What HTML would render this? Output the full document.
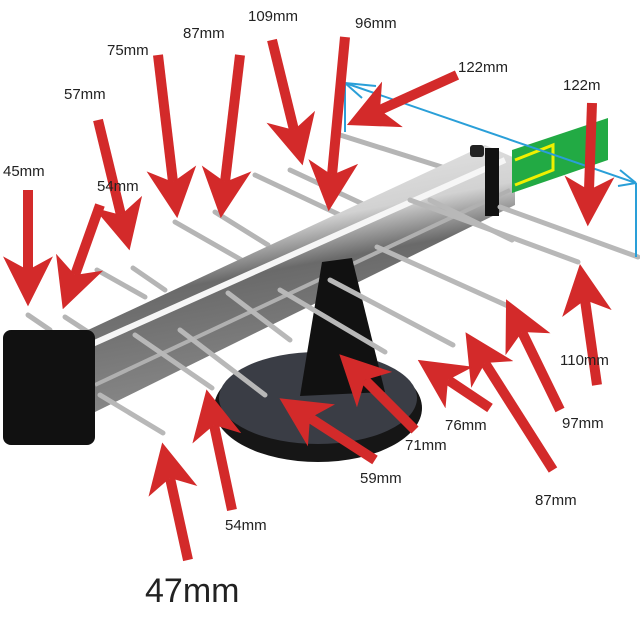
<!DOCTYPE html>
<html><head><meta charset="utf-8"><style>
html,body{margin:0;padding:0;background:#fff;}
svg{display:block;}
text{font-family:"Liberation Sans",sans-serif;fill:#222;}
</style></head><body>
<svg width="640" height="635" viewBox="0 0 640 635" xmlns="http://www.w3.org/2000/svg">
<defs>
<marker id="ah" viewBox="0 0 44 44" refX="12" refY="22" markerWidth="50" markerHeight="50" orient="auto" markerUnits="userSpaceOnUse">
<path d="M0,0 L44,22 L0,44 L12,22 Z" fill="#d32a2a"/>
</marker>
<linearGradient id="boom" x1="0" y1="0" x2="0.3" y2="1">
<stop offset="0" stop-color="#f2f2f2"/><stop offset="0.4" stop-color="#d2d2d2"/><stop offset="0.55" stop-color="#6a6a6a"/><stop offset="1" stop-color="#8c8c8c"/>
</linearGradient>
</defs>
<g stroke-linecap="round">
<g stroke="#b5b5b5" stroke-width="5">
<line x1="340" y1="135" x2="445" y2="168"/>
<line x1="255" y1="175" x2="340" y2="215"/>
<line x1="290" y1="170" x2="365" y2="205"/>
<line x1="175" y1="222" x2="245" y2="262"/>
<line x1="215" y1="212" x2="268" y2="245"/>
<line x1="97" y1="270" x2="145" y2="297"/>
<line x1="133" y1="268" x2="165" y2="290"/>
<line x1="28" y1="315" x2="50" y2="330"/>
<line x1="65" y1="317" x2="88" y2="332"/>
</g>
</g>
<polygon points="88,330 485,145 515,158 515,205 95,412" fill="url(#boom)"/>
<line x1="90" y1="345" x2="505" y2="160" stroke="#f6f6f6" stroke-width="6"/>
<line x1="95" y1="385" x2="510" y2="190" stroke="#b0b0b0" stroke-width="4"/>
<rect x="485" y="148" width="14" height="68" fill="#111"/>
<rect x="470" y="145" width="14" height="12" rx="3" fill="#222"/>
<ellipse cx="318" cy="408" rx="104" ry="54" fill="#161616"/>
<ellipse cx="318" cy="398" rx="99" ry="46" fill="#3a3d45"/>
<polygon points="322,262 352,258 385,392 300,396" fill="#111"/>
<g stroke="#b8b8b8" stroke-width="5" stroke-linecap="round">
<line x1="100" y1="395" x2="163" y2="433"/>
<line x1="135" y1="335" x2="212" y2="388"/>
<line x1="180" y1="330" x2="265" y2="395"/>
<line x1="228" y1="293" x2="290" y2="340"/>
<line x1="280" y1="290" x2="385" y2="352"/>
<line x1="330" y1="280" x2="453" y2="345"/>
<line x1="377" y1="247" x2="510" y2="307"/>
<line x1="410" y1="200" x2="578" y2="262"/>
<line x1="430" y1="200" x2="512" y2="240"/>
<line x1="500" y1="207" x2="638" y2="257"/>
</g>
<rect x="3" y="330" width="92" height="115" rx="8" fill="#111"/>
<polygon points="512,150 608,118 608,160 512,193" fill="#22aa44"/>
<polyline points="515,160 553,145 553,170 515,185" fill="none" stroke="#f0f000" stroke-width="3"/>
<g stroke="#2a9fd8" stroke-width="2" fill="none">
<line x1="345" y1="83" x2="345" y2="132"/>
<line x1="345" y1="83" x2="636" y2="183"/>
<line x1="345" y1="83" x2="376" y2="86"/>
<line x1="345" y1="83" x2="362" y2="98"/>
<line x1="636" y1="183" x2="620" y2="170"/>
<line x1="636" y1="183" x2="618" y2="186"/>
<line x1="636" y1="183" x2="636" y2="257"/>
</g>
<g stroke="#d32a2a" stroke-width="10" marker-end="url(#ah)">
<line x1="28" y1="190" x2="28" y2="270"/>
<line x1="100" y1="205" x2="75" y2="275"/>
<line x1="98" y1="120" x2="121" y2="215"/>
<line x1="158" y1="55" x2="173" y2="182"/>
<line x1="240" y1="55" x2="225" y2="182"/>
<line x1="272" y1="40" x2="294" y2="130"/>
<line x1="345" y1="37" x2="332" y2="175"/>
<line x1="457" y1="75" x2="380" y2="110"/>
<line x1="592" y1="103" x2="589" y2="190"/>
<line x1="597" y1="385" x2="585" y2="300"/>
<line x1="560" y1="410" x2="522" y2="332"/>
<line x1="553" y1="470" x2="485" y2="363"/>
<line x1="490" y1="408" x2="448" y2="380"/>
<line x1="415" y1="430" x2="365" y2="380"/>
<line x1="375" y1="460" x2="310" y2="418"/>
<line x1="232" y1="510" x2="214" y2="425"/>
<line x1="188" y1="560" x2="170" y2="478"/>
</g>
<g font-size="15">
<text x="3" y="176">45mm</text>
<text x="97" y="191">54mm</text>
<text x="64" y="99">57mm</text>
<text x="107" y="55">75mm</text>
<text x="183" y="38">87mm</text>
<text x="248" y="21">109mm</text>
<text x="355" y="28">96mm</text>
<text x="458" y="72">122mm</text>
<text x="563" y="90">122m</text>
<text x="560" y="365">110mm</text>
<text x="562" y="428">97mm</text>
<text x="445" y="430">76mm</text>
<text x="405" y="450">71mm</text>
<text x="360" y="483">59mm</text>
<text x="535" y="505">87mm</text>
<text x="225" y="530">54mm</text>
</g>
<text x="145" y="602" font-size="34">47mm</text>
</svg>
</body></html>
